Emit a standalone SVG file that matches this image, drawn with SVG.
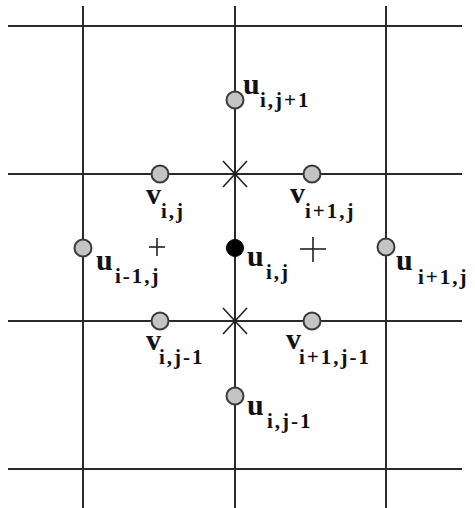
<svg xmlns="http://www.w3.org/2000/svg" width="475" height="508" viewBox="0 0 475 508">
<style>
.grid line{stroke:#2a2a2a;stroke-width:2}
.mark line{stroke:#222;stroke-width:1.6}
.pt{fill:#c4c4c4;stroke:#3a3a3a;stroke-width:2}
.blk{fill:#000;stroke:#000;stroke-width:1}
text{font-family:"Liberation Serif","Times New Roman",serif;font-weight:bold;fill:#111}
.m{font-size:30px}
.s{font-size:21px;letter-spacing:2px}
</style>
<rect width="475" height="508" fill="#fff"/>
<g id="connectors" class="grid">
<line x1="83" y1="6" x2="83" y2="508"/>
<line x1="235" y1="6" x2="235" y2="508"/>
<line x1="386" y1="6" x2="386" y2="508"/>
<line x1="8" y1="26" x2="462" y2="26"/>
<line x1="8" y1="174" x2="462" y2="174"/>
<line x1="8" y1="321" x2="462" y2="321"/>
<line x1="8" y1="469" x2="462" y2="469"/>
</g>
<g id="marks" class="mark">
<line x1="223" y1="161" x2="247" y2="187"/>
<line x1="247" y1="161" x2="223" y2="187"/>
<line x1="223" y1="308" x2="247" y2="334"/>
<line x1="247" y1="308" x2="223" y2="334"/>
<line x1="300" y1="249" x2="326" y2="249"/>
<line x1="313" y1="237" x2="313" y2="262"/>
<line x1="149" y1="247" x2="165" y2="247"/>
<line x1="157" y1="238" x2="157" y2="256"/>
</g>
<g id="u_i_jp1"><circle class="pt" cx="235" cy="100" r="8.5"/><text><tspan class="m" x="243" y="94">u</tspan><tspan class="s" x="260" y="107">i,j+1</tspan></text></g>
<g id="v_i_j"><circle class="pt" cx="160" cy="174" r="8.5"/><text><tspan class="m" x="146" y="204">v</tspan><tspan class="s" x="161" y="218">i,j</tspan></text></g>
<g id="v_ip1_j"><circle class="pt" cx="312" cy="174" r="8.5"/><text><tspan class="m" x="290" y="203">v</tspan><tspan class="s" x="305" y="218">i+1,j</tspan></text></g>
<g id="u_im1_j"><circle class="pt" cx="83" cy="248" r="8.5"/><text><tspan class="m" x="96" y="270">u</tspan><tspan class="s" x="115" y="283">i-1,j</tspan></text></g>
<g id="u_i_j"><circle class="blk" cx="235" cy="248" r="8.5"/><text><tspan class="m" x="247" y="266">u</tspan><tspan class="s" x="266" y="279">i,j</tspan></text></g>
<g id="u_ip1_j"><circle class="pt" cx="386" cy="247" r="8.5"/><text><tspan class="m" x="396" y="270">u</tspan><tspan class="s" x="418" y="284">i+1,j</tspan></text></g>
<g id="v_i_jm1"><circle class="pt" cx="160" cy="321" r="8.5"/><text><tspan class="m" x="146" y="350">v</tspan><tspan class="s" x="159" y="364">i,j-1</tspan></text></g>
<g id="v_ip1_jm1"><circle class="pt" cx="312" cy="321" r="8.5"/><text><tspan class="m" x="286" y="349">v</tspan><tspan class="s" x="299" y="364">i+1,j-1</tspan></text></g>
<g id="u_i_jm1"><circle class="pt" cx="235" cy="396" r="8.5"/><text><tspan class="m" x="247" y="415">u</tspan><tspan class="s" x="267" y="428">i,j-1</tspan></text></g>
</svg>
